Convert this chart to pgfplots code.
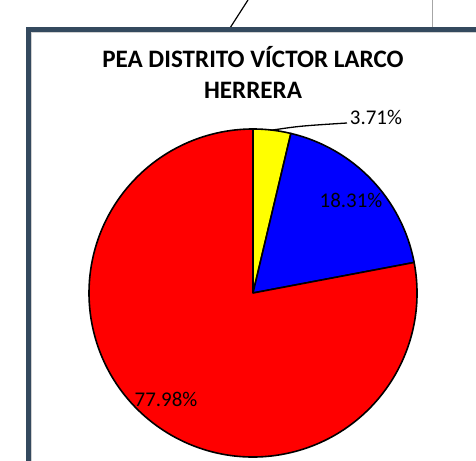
\documentclass[border=0pt]{standalone}
\usepackage{pgfplots}
\pgfplotsset{compat=1.18}
\usepackage{pgfplotstable}
\usepackage{fontspec}
\setmainfont{Carlito}
\definecolor{framecol}{HTML}{34495E}
\definecolor{pieyellow}{HTML}{FFFF00}
\definecolor{pieblue}{HTML}{0000FF}
\definecolor{piered}{HTML}{FF0000}

% shares of the PEA, in percent, clockwise from 12 o'clock
\pgfplotstableread{
value
3.71
18.31
77.98
}\piedata

\begin{document}
\begin{tikzpicture}
\useasboundingbox (0,0) rectangle (476bp,461bp);
\pgfplotstablegetelem{0}{value}\of\piedata \let\va\pgfplotsretval
\pgfplotstablegetelem{1}{value}\of\piedata \let\vb\pgfplotsretval
\pgfplotstablegetelem{2}{value}\of\piedata \let\vc\pgfplotsretval
\pgfmathsetmacro\aA{90}
\pgfmathsetmacro\aB{\aA-3.6*\va}
\pgfmathsetmacro\aC{\aB-3.6*\vb}
\pgfmathsetmacro\aD{\aC-3.6*\vc}
\pgfmathsetmacro\aMid{(\aA+\aB)/2}
\begin{axis}[
  at={(0,0)}, anchor=south west,
  width=476bp, height=461bp, scale only axis,
  xmin=0, xmax=476, ymin=0, ymax=461,
  hide axis, clip=true,
]
% lines above the chart box
\draw[black, line width=1.2bp] (axis cs:248,461) -- (axis cs:230,433);
\draw[gray!70, line width=1bp] (axis cs:432.5,461) -- (axis cs:432.5,432);
% chart box
\fill[white] (axis cs:28.5,431.5) rectangle (axis cs:490,-10);
\draw[black!18, line width=0.8bp] (axis cs:31.5,428.5) -- (axis cs:490,428.5);
\draw[black!18, line width=0.8bp] (axis cs:31.5,428.5) -- (axis cs:31.5,-10);
\draw[framecol, line width=4.2bp] (axis cs:28.5,-10) -- (axis cs:28.5,431.5) -- (axis cs:490,431.5);
% pie
\filldraw[fill=pieyellow, draw=black, line width=1.6bp, line join=round]
  (axis cs:253,168) -- ++(\aA:164bp) arc[start angle=\aA, end angle=\aB, radius=164bp] -- cycle;
\filldraw[fill=pieblue, draw=black, line width=1.6bp, line join=round]
  (axis cs:253,168) -- ++(\aB:164bp) arc[start angle=\aB, end angle=\aC, radius=164bp] -- cycle;
\filldraw[fill=piered, draw=black, line width=1.6bp, line join=round]
  (axis cs:253,168) -- ++(\aC:164bp) arc[start angle=\aC, end angle=\aD, radius=164bp] -- cycle;
% leader line for the small slice
\draw[black, line width=1.3bp] ([shift={(\aMid:164bp)}]axis cs:253,168)
  .. controls (axis cs:300,335) .. (axis cs:347,338);
% labels
\node[anchor=base, font=\fontsize{21}{25}\selectfont] at (axis cs:376,336) {3.71\%};
\node[anchor=base, font=\fontsize{21}{25}\selectfont] at (axis cs:351,253) {18.31\%};
\node[anchor=base, font=\fontsize{21}{25}\selectfont] at (axis cs:166,54) {77.98\%};
% title
\node[anchor=base, font=\fontsize{25.2}{30}\selectfont\bfseries] at (axis cs:253,393) {PEA DISTRITO VÍCTOR LARCO};
\node[anchor=base, font=\fontsize{25.2}{30}\selectfont\bfseries] at (axis cs:253,362) {HERRERA};
\end{axis}
\end{tikzpicture}
\end{document}
